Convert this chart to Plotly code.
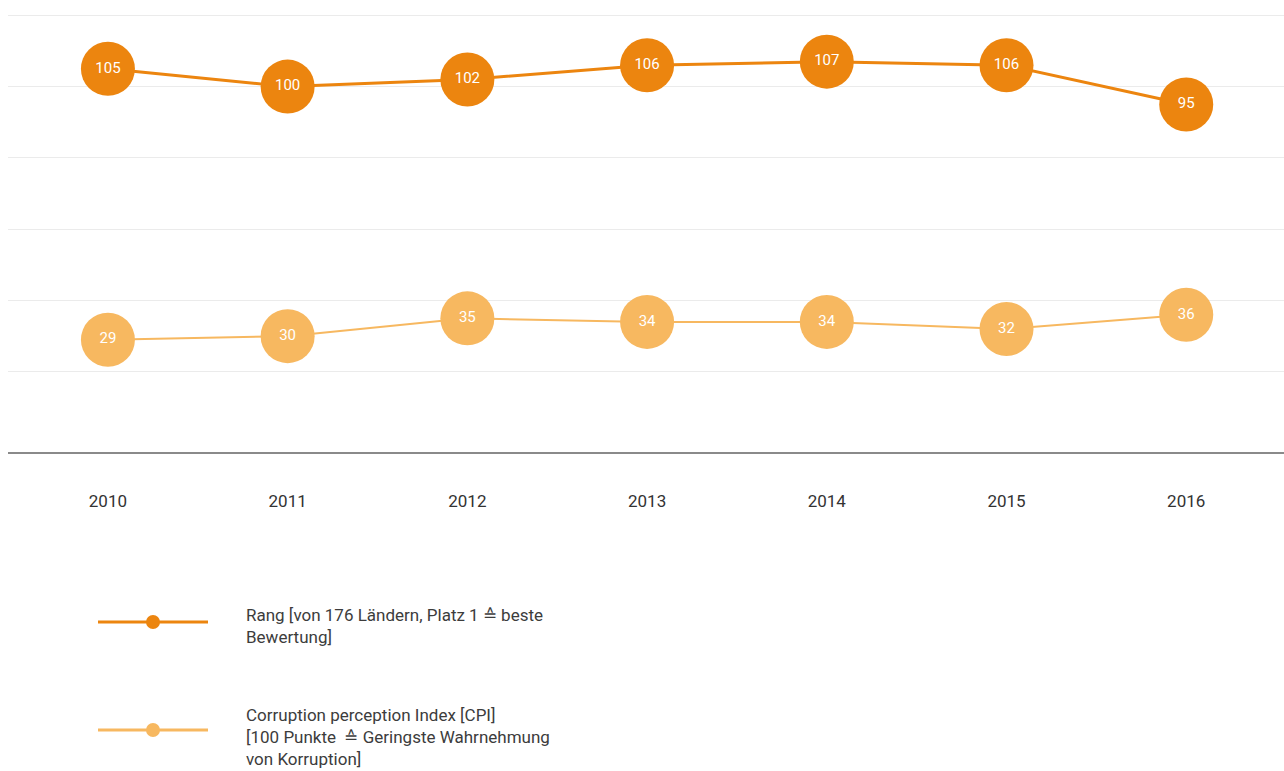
import plotly.graph_objects as go

# Data
years = [2010, 2011, 2012, 2013, 2014, 2015, 2016]
tick_labels = ["2010", "2011", "2012", "2013", "2014", "2015", "2016"]
rang = [105, 100, 102, 106, 107, 106, 95]
cpi = [29, 30, 35, 34, 34, 32, 36]

series_names = [
    "Rang [von 176 Ländern, Platz 1 ≙ beste<br>Bewertung]",
    "Corruption perception Index [CPI]<br>[100 Punkte  ≙ Geringste Wahrnehmung<br>von Korruption]",
]

DARK = "#EC850F"
LIGHT = "#F7B860"
FONT = "Roboto, sans-serif"

# Plot-area geometry in pixels, used to place the legend below it
W, H = 1284, 771
LEFT, BOTTOM = 8, 319
PLOT_W = W - LEFT
PLOT_H = H - BOTTOM


def px_x(x):
    return (x - LEFT) / PLOT_W


def px_y(y):
    return 1 - y / PLOT_H


fig = go.Figure()

fig.add_trace(go.Scatter(
    x=years, y=cpi, mode="lines+markers+text",
    line=dict(color=LIGHT, width=2),
    marker=dict(color=LIGHT, size=54, line=dict(width=0)),
    text=[str(v) for v in cpi], textposition="middle center",
    textfont=dict(color="white", size=15, family=FONT),
    showlegend=False, hoverinfo="x+y",
))

fig.add_trace(go.Scatter(
    x=years, y=rang, mode="lines+markers+text",
    line=dict(color=DARK, width=3),
    marker=dict(color=DARK, size=54, line=dict(width=0)),
    text=[str(v) for v in rang], textposition="middle center",
    textfont=dict(color="white", size=15, family=FONT),
    showlegend=False, hoverinfo="x+y",
))

# Hand-built legend below the plot area
legend_rows = [
    dict(color=DARK, y_line=622, y_text=626, name=series_names[0]),
    dict(color=LIGHT, y_line=730, y_text=737, name=series_names[1]),
]
for row in legend_rows:
    fig.add_shape(type="line", xref="paper", yref="paper",
                  x0=px_x(98), x1=px_x(208),
                  y0=px_y(row["y_line"]), y1=px_y(row["y_line"]),
                  line=dict(color=row["color"], width=3))
    fig.add_shape(type="circle", xref="paper", yref="paper",
                  x0=px_x(146), x1=px_x(160),
                  y0=px_y(row["y_line"] + 7), y1=px_y(row["y_line"] - 7),
                  fillcolor=row["color"], line=dict(width=0))
    fig.add_annotation(xref="paper", yref="paper",
                       x=px_x(244), y=px_y(row["y_text"]),
                       xanchor="left", yanchor="middle", align="left",
                       text=row["name"], showarrow=False,
                       font=dict(size=17, color="#3c3c3c", family=FONT))

fig.update_layout(
    width=W, height=H,
    margin=dict(l=LEFT, r=0, t=0, b=BOTTOM),
    paper_bgcolor="white", plot_bgcolor="white",
    font=dict(family=FONT, color="#333333"),
    xaxis=dict(
        range=[2009.444, 2016.544],
        tickvals=years, ticktext=tick_labels,
        tickfont=dict(size=17, color="#333333", family=FONT),
        showgrid=False, zeroline=False,
        showline=True, linecolor="#8a8a8a", linewidth=2,
        ticks="", ticklabelstandoff=33,
        fixedrange=True,
    ),
    yaxis=dict(
        range=[-2.5, 124.3],
        tickvals=[20, 40, 60, 80, 100, 120],
        showticklabels=False,
        showgrid=True, gridcolor="#ebebeb", gridwidth=1,
        zeroline=False, showline=False,
        fixedrange=True,
    ),
)

fig.write_html("out.html")
